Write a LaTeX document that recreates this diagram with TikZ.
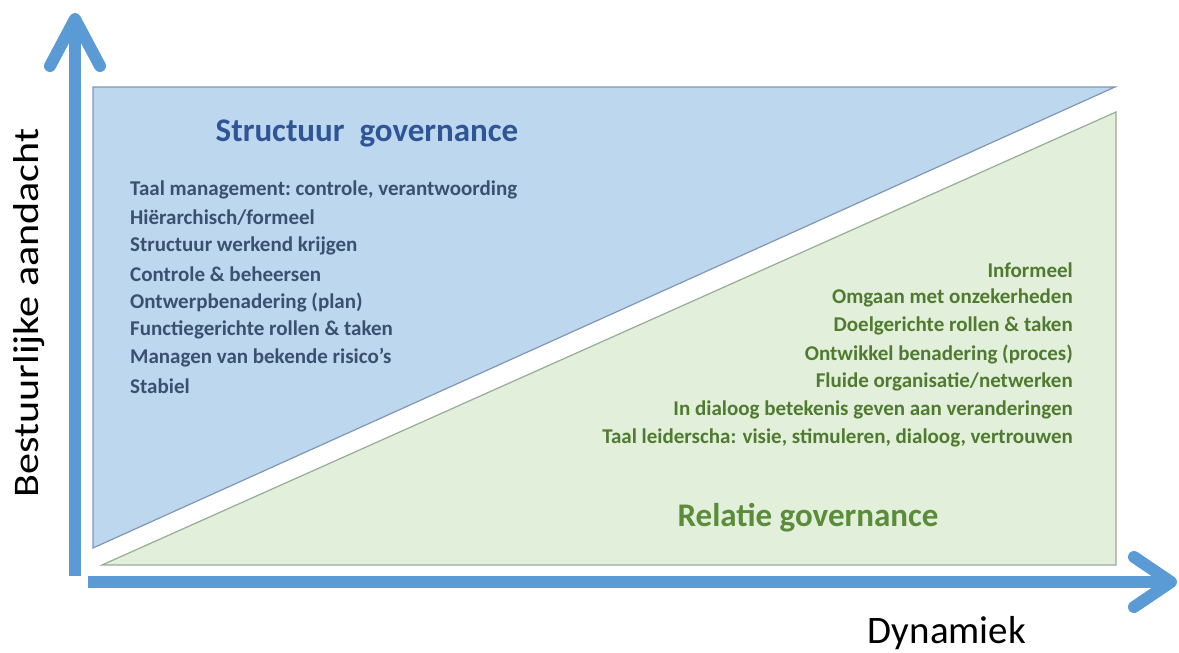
\documentclass[tikz,border=0pt]{standalone}
\usepackage{fontspec}
\setmainfont{Carlito}
\definecolor{axisblue}{HTML}{5B9BD5}
\definecolor{blueFill}{HTML}{BDD7EE}
\definecolor{blueEdge}{HTML}{7F97B2}
\definecolor{greenFill}{HTML}{E2EFDA}
\definecolor{greenEdge}{HTML}{97AC97}
\definecolor{titleBlue}{HTML}{2F5597}
\definecolor{listBlue}{HTML}{3B4F6E}
\definecolor{listGreen}{HTML}{4F7A2F}
\definecolor{titleGreen}{HTML}{5A8C3A}
\tikzset{
  axis/.style={line width=12pt, draw=axisblue},
  chevron/.style={line width=12pt, draw=axisblue, line cap=round, line join=round},
  listfont/.style={font=\fontsize{21}{24}\selectfont\bfseries},
  leftitem/.style={anchor=west, inner sep=0pt, text=listBlue, listfont},
  rightitem/.style={anchor=east, inner sep=0pt, text=listGreen, listfont},
  titlefont/.style={font=\fontsize{33}{38}\selectfont\bfseries, inner sep=0pt},
}
\begin{document}
\begin{tikzpicture}[x=1pt,y=-1pt]
\useasboundingbox (0,0) rectangle (1179,653);
% regions
\fill[blueFill] (93,87) -- (1115,87) -- (93,548) -- cycle;
\draw[blueEdge, line width=1.2pt] (93,87) -- (1115,87) -- (93,548) -- cycle;
\fill[greenFill] (102,565) -- (1116,112) -- (1116,565) -- cycle;
\draw[greenEdge, line width=1.2pt] (102,565) -- (1116,112) -- (1116,565) -- cycle;
% axes
\draw[axis] (75,576) -- (75,22);
\draw[chevron] (50,66) -- (75,19) -- (100,66);
\draw[axis] (88,582) -- (1168,582);
\draw[chevron] (1134,557) -- (1171,582) -- (1134,607);
% axis labels
\node[rotate=90, font=\fontsize{36}{40}\selectfont, inner sep=0pt] (ylab) at (29,313) {\scalebox{1.17}[1]{Bestuurlijke aandacht}};
\node[font=\fontsize{39}{44}\selectfont, inner sep=0pt] (xlab) at (947,633) {Dynamiek};
% titles
\node[text=titleBlue, titlefont] (t1) at (367,133) {Structuur\ \ governance};
\node[text=titleGreen, titlefont] (t2) at (808,518) {Relatie governance};
% left list
\node[leftitem] (l1) at (130,190) {Taal management:\ controle, verantwoording};
\node[leftitem] (l2) at (130,218) {Hiërarchisch/formeel};
\node[leftitem] (l3) at (130,246) {Structuur werkend krijgen};
\node[leftitem] (l4) at (130,274) {Controle \& beheersen};
\node[leftitem] (l5) at (130,302) {Ontwerpbenadering (plan)};
\node[leftitem] (l6) at (130,330) {Functiegerichte rollen \& taken};
\node[leftitem] (l7) at (130,358) {Managen van bekende risico’s};
\node[leftitem] (l8) at (130,386) {Stabiel};
% right list
\node[rightitem] (r1) at (1073,270) {Informeel};
\node[rightitem] (r2) at (1073,298) {Omgaan met onzekerheden};
\node[rightitem] (r3) at (1073,326) {Doelgerichte rollen \& taken};
\node[rightitem] (r4) at (1073,354) {Ontwikkel benadering (proces)};
\node[rightitem] (r5) at (1073,382) {Fluide organisatie/netwerken};
\node[rightitem] (r6) at (1073,410) {In dialoog betekenis geven aan veranderingen};
\node[rightitem] (r7) at (1073,438) {Taal leiderscha: visie, stimuleren, dialoog, vertrouwen};
\end{tikzpicture}
\end{document}
